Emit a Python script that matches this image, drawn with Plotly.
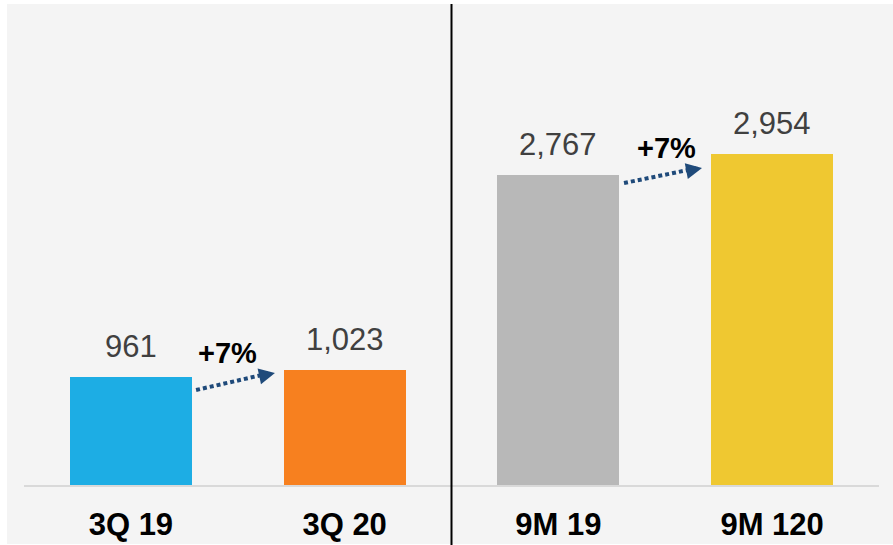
import plotly.graph_objects as go

categories = ["3Q 19", "3Q 20", "9M 19", "9M 120"]
values = [961, 1023, 2767, 2954]
bar_colors = ["#1DADE4", "#F7801F", "#B8B8B8", "#EFC831"]
growth_labels = ["+7%", "+7%"]
growth_pairs = [(0, 1), (2, 3)]

# layout geometry (pixels)
W, H = 893, 545
ML, MR, MT, MB = 24, 14, 4, 60
plot_w = W - ML - MR
plot_h = H - MT - MB
PX_Y = 0.112                     # pixels per value unit
YMAX = plot_h / PX_Y
PX_X = plot_w / 4.0              # pixels per category step

FONT = "Arial, 'Liberation Sans', Helvetica, sans-serif"
x = list(range(len(categories)))

fig = go.Figure()
fig.add_trace(go.Bar(
    x=x, y=values, marker=dict(color=bar_colors, line=dict(width=0)),
    width=0.57, hoverinfo="skip", showlegend=False,
))

shapes = []
annotations = []

# grey panel background
shapes.append(dict(type="rect", xref="paper", yref="paper", layer="below",
                   x0=(7 - ML) / plot_w, x1=(W - ML) / plot_w,
                   y0=-(H - 1 - (H - MB)) / plot_h, y1=1.0,
                   fillcolor="#F4F4F4", line=dict(width=0)))
# divider
shapes.append(dict(type="line", xref="x", yref="paper", x0=1.5, x1=1.5,
                   y0=-(H - (H - MB)) / plot_h, y1=1.0,
                   line=dict(color="#000000", width=2)))

# value labels
for i, v in enumerate(values):
    annotations.append(dict(x=i, y=v, xref="x", yref="y", text=f"{v:,}",
                            showarrow=False, yanchor="bottom", yshift=11,
                            font=dict(family=FONT, size=31, color="#404040")))

# growth arrows (tail / tip given as offsets relative to the left bar)
arrow_geo = [((0.305, 848), (0.674, 1000)), ((0.307, 2696), (0.672, 2830))]
label_geo = [(0.454, 1183), (0.506, 3013)]
for (a, b), lab, ((tx0, ty0), (tx1, ty1)), (lx, ly) in zip(growth_pairs, growth_labels, arrow_geo, label_geo):
    x0, x1 = a + tx0, a + tx1
    shapes.append(dict(type="line", xref="x", yref="y", x0=x0, y0=ty0, x1=x1 - 0.02, y1=ty1,
                       line=dict(color="#1F4A7A", width=4, dash="4px,3px")))
    dxp = (x1 - x0) * PX_X
    dyp = -(ty1 - ty0) * PX_Y
    L = (dxp ** 2 + dyp ** 2) ** 0.5
    annotations.append(dict(x=x1, y=ty1, xref="x", yref="y", text="",
                            showarrow=True, arrowhead=2, arrowsize=0.8, arrowwidth=4,
                            arrowcolor="#1F4A7A", ax=-dxp / L * 14, ay=-dyp / L * 14,
                            axref="pixel", ayref="pixel", standoff=0))
    annotations.append(dict(x=a + lx, y=ly, xref="x", yref="y", text=lab,
                            showarrow=False, xanchor="center", yanchor="middle",
                            font=dict(family=FONT, size=29, color="#000000", weight="bold")))

fig.update_layout(
    width=W, height=H,
    margin=dict(l=ML, r=MR, t=MT, b=MB, pad=0, autoexpand=False),
    paper_bgcolor="#FFFFFF", plot_bgcolor="rgba(0,0,0,0)",
    shapes=shapes, annotations=annotations, bargap=0,
    xaxis=dict(range=[-0.5, 3.5], tickvals=x, ticktext=categories,
               showgrid=False, zeroline=False, showline=True, automargin=False,
               linecolor="#D9D9D9", linewidth=2, ticks="",
               ticklabelstandoff=11,
               tickfont=dict(family=FONT, size=31, color="#000000", weight="bold")),
    yaxis=dict(range=[0, YMAX], visible=False, showgrid=False, zeroline=False,
               automargin=False),
)

fig.write_html("out.html")
